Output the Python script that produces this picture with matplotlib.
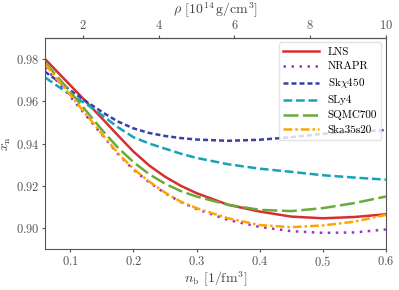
import numpy as np
import matplotlib
matplotlib.use("Agg")
import matplotlib.pyplot as plt

plt.rcParams['font.family'] = 'serif'
plt.rcParams['font.serif'] = ['cmr10', 'DejaVu Serif']
plt.rcParams['mathtext.fontset'] = 'cm'
plt.rcParams['axes.formatter.use_mathtext'] = True

# baryon density [1/fm^3]
nb = [0.06, 0.08, 0.10, 0.125, 0.15, 0.175, 0.20, 0.225, 0.25, 0.275, 0.30,
      0.35, 0.40, 0.45, 0.50, 0.55, 0.60]

# neutron fraction x_n
x_lns = [0.9800, 0.9738, 0.9676, 0.9598, 0.9520, 0.9440, 0.9362, 0.9296, 0.9243, 0.9200, 0.9165,
         0.9110, 0.9078, 0.9054, 0.9046, 0.9052, 0.9065]
x_nrapr = [0.9760, 0.9692, 0.9622, 0.9532, 0.9442, 0.9352, 0.9276, 0.9216, 0.9165, 0.9123, 0.9090,
           0.9038, 0.9005, 0.8985, 0.8977, 0.8979, 0.8993]
x_skx450 = [0.9740, 0.9697, 0.9652, 0.9600, 0.9550, 0.9505, 0.9472, 0.9450, 0.9436, 0.9426, 0.9419,
            0.9413, 0.9418, 0.9430, 0.9446, 0.9456, 0.9464]
x_sly4 = [0.9713, 0.9672, 0.9632, 0.9588, 0.9535, 0.9478, 0.9430, 0.9400, 0.9376, 0.9352, 0.9332,
          0.9302, 0.9281, 0.9266, 0.9250, 0.9239, 0.9229]
x_sqmc700 = [0.9784, 0.9715, 0.9645, 0.9555, 0.9465, 0.9382, 0.9312, 0.9255, 0.9210, 0.9175, 0.9149,
             0.9110, 0.9086, 0.9080, 0.9094, 0.9118, 0.9149]
x_ska35s20 = [0.9776, 0.9703, 0.9630, 0.9538, 0.9446, 0.9356, 0.9280, 0.9220, 0.9168, 0.9125, 0.9094,
              0.9046, 0.9014, 0.9004, 0.9012, 0.9030, 0.9062]

fig = plt.figure(figsize=(3.99, 2.90), dpi=100)
ax = fig.add_axes([0.113, 0.141, 0.854, 0.728])

lw = 1.8
ax.plot(nb, x_lns, color='#d62f2f', lw=lw, ls='-', label='LNS')
ax.plot(nb, x_nrapr, color='#9932cc', lw=lw, ls=(0, (1, 2.2)), label='NRAPR')
ax.plot(nb, x_skx450, color='#3a3fa8', lw=lw, ls=(0, (2, 1.2)), label=r'Sk$\chi$450')
ax.plot(nb, x_sly4, color='#17a2b8', lw=lw, ls=(0, (3.5, 1.5)), label='SLy4')
ax.plot(nb, x_sqmc700, color='#6aaa3a', lw=lw, ls=(0, (6, 1.8)), label='SQMC700')
ax.plot(nb, x_ska35s20, color='#ffa500', lw=lw, ls=(0, (3.5, 1.2, 1, 1.2)), label='Ska35s20')

ax.set_xlim(0.06, 0.6)
ax.set_ylim(0.89, 0.99)
ax.set_xticks([0.1, 0.2, 0.3, 0.4, 0.5, 0.6])
ax.set_yticks([0.90, 0.92, 0.94, 0.96, 0.98])
ax.set_xlabel(r'$n_{\rm b}$ $[1/\mathrm{fm}^3]$', fontsize=10, color='#444444', labelpad=1)
ax.set_ylabel(r'$x_{\rm n}$', fontsize=10, color='#444444', labelpad=2)
ax.tick_params(labelsize=9, colors='#555555', length=2.5, pad=1.5)
for s in ax.spines.values():
    s.set_color('#555555')

# top axis: mass density, 0.6 fm^-3 -> 10^15 g/cm^3
conv = 10 / 0.6
sec = ax.secondary_xaxis('top', functions=(lambda n: n * conv, lambda r: r / conv))
sec.set_xticks([2, 4, 6, 8, 10])
sec.set_xlabel(r'$\rho$ $[10^{14}\,\mathrm{g/cm}^3]$', fontsize=10, color='#444444', labelpad=4)
sec.tick_params(labelsize=9, colors='#555555', length=2.5, pad=1.5)

leg = ax.legend(loc='upper right', fontsize=8, frameon=True, handlelength=3.2,
                borderaxespad=0.4, labelspacing=0.45)
leg.get_frame().set_edgecolor('#dddddd')

fig.savefig('out.png', dpi=100)
